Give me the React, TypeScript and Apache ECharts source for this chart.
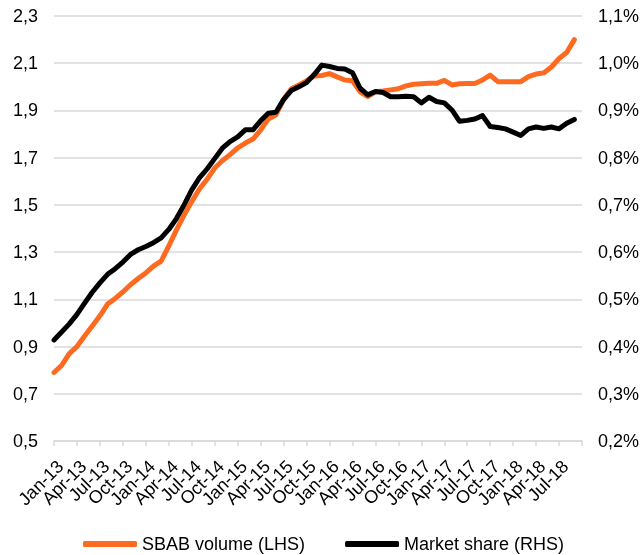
import React, { useEffect, useRef } from "react";
import * as echarts from "echarts";

const MONTHS = ["Jan", "Feb", "Mar", "Apr", "May", "Jun", "Jul", "Aug", "Sep", "Oct", "Nov", "Dec"];
const YEARS = ["13", "14", "15", "16", "17", "18"];
// Jan-13 .. Oct-18 (last category is the axis end, no data)
const categories: string[] = [];
YEARS.forEach((y) => MONTHS.forEach((m) => categories.push(`${m}-${y}`)));
categories.splice(70);

const sbabVolume = [
  0.79, 0.82, 0.87, 0.90, 0.945, 0.987, 1.03, 1.08, 1.104, 1.131, 1.162, 1.188,
  1.212, 1.241, 1.262, 1.326, 1.394, 1.457, 1.514, 1.567, 1.608, 1.656, 1.687, 1.713,
  1.741, 1.762, 1.779, 1.817, 1.864, 1.881, 1.946, 1.991, 2.008, 2.025, 2.046, 2.048,
  2.056, 2.042, 2.029, 2.026, 1.979, 1.959, 1.979, 1.982, 1.987, 1.992, 2.004, 2.011,
  2.013, 2.015, 2.015, 2.027, 2.008, 2.013, 2.014, 2.014, 2.029, 2.05, 2.022, 2.022,
  2.022, 2.022, 2.043, 2.054, 2.059, 2.084, 2.12, 2.145, 2.2,
];

const marketShare = [
  0.414, 0.431, 0.448, 0.468, 0.492, 0.515, 0.535, 0.553, 0.565, 0.579, 0.595, 0.605,
  0.612, 0.62, 0.63, 0.648, 0.671, 0.70, 0.732, 0.757, 0.776, 0.798, 0.82, 0.834,
  0.844, 0.859, 0.859, 0.878, 0.894, 0.896, 0.923, 0.942, 0.95, 0.959, 0.976, 0.996,
  0.993, 0.989, 0.988, 0.98, 0.947, 0.933, 0.94, 0.938, 0.929, 0.929, 0.93, 0.929,
  0.916, 0.928, 0.919, 0.916, 0.901, 0.877, 0.879, 0.882, 0.889, 0.866, 0.864, 0.861,
  0.854, 0.847, 0.861, 0.865, 0.862, 0.865, 0.861, 0.873, 0.881,
];

const LEFT_MIN = 0.5;
const LEFT_MAX = 2.3;
const RIGHT_MIN = 0.2;
const RIGHT_MAX = 1.1;

const FONT = "'Liberation Sans', Arial, sans-serif";
const GRID_COLOR = "#d9d9d9";
const ORANGE = "#FF6A21";

export default function App() {
  const ref = useRef<HTMLDivElement>(null);
  useEffect(() => {
    if (!ref.current) return;
    const chart = echarts.init(ref.current, undefined, { renderer: "svg" });
    chart.setOption({
      animation: false,
      textStyle: { fontFamily: FONT },
      grid: { left: 54, right: 61, top: 16, bottom: 114, containLabel: false },
      legend: {
        left: 83,
        top: 535,
        padding: 0,
        itemWidth: 54,
        itemHeight: 6,
        itemGap: 40,
        icon: "roundRect",
        textStyle: { fontSize: 18, color: "#000", fontFamily: FONT, padding: [0, 0, 0, 0] },
        data: [
          { name: "SBAB volume (LHS)", itemStyle: { color: ORANGE } },
          { name: "Market share (RHS)", itemStyle: { color: "#000" } },
        ],
      },
      xAxis: {
        type: "category",
        data: categories,
        boundaryGap: false,
        axisLine: { lineStyle: { color: GRID_COLOR, width: 1.5 } },
        axisTick: {
          show: true,
          length: 5,
          lineStyle: { color: GRID_COLOR, width: 1.5 },
          interval: (idx: number) => idx % 3 === 0,
        },
        axisLabel: {
          rotate: 45,
          fontSize: 18,
          color: "#000",
          fontFamily: FONT,
          margin: 16,
          verticalAlign: "top",
          hideOverlap: false,
          interval: 0,
          formatter: (v: string, idx: number) => (idx % 3 === 0 && idx < 69 ? v : ""),
        },
        splitLine: { show: false },
      },
      yAxis: [
        {
          type: "value",
          min: LEFT_MIN,
          max: LEFT_MAX,
          interval: 0.1,
          axisLine: { show: false },
          axisTick: { show: false },
          splitLine: { show: false },
          axisLabel: {
            fontSize: 18,
            color: "#000",
            fontFamily: FONT,
            margin: 16,
            formatter: (v: number) => {
              const k = Math.round(v * 10);
              return k % 2 === 1 ? (k / 10).toFixed(1).replace(".", ",") : "";
            },
          },
        },
        {
          type: "value",
          min: RIGHT_MIN,
          max: RIGHT_MAX,
          interval: 0.1,
          axisLine: { show: false },
          axisTick: { show: false },
          splitLine: { show: true, lineStyle: { color: GRID_COLOR, width: 1.5 } },
          axisLabel: {
            fontSize: 18,
            color: "#000",
            fontFamily: FONT,
            margin: 16,
            formatter: (v: number) => v.toFixed(1).replace(".", ",") + "%",
          },
        },
      ],
      series: [
        {
          name: "SBAB volume (LHS)",
          type: "line",
          yAxisIndex: 0,
          data: sbabVolume,
          symbol: "none",
          color: ORANGE,
          lineStyle: { color: ORANGE, width: 5, join: "round", cap: "round" },
        },
        {
          name: "Market share (RHS)",
          type: "line",
          yAxisIndex: 1,
          data: marketShare,
          symbol: "none",
          color: "#000",
          lineStyle: { color: "#000", width: 5, join: "round", cap: "round" },
        },
      ],
    });
    return () => chart.dispose();
  }, []);
  return (
    <div
      ref={ref}
      style={{ position: "fixed", left: 0, top: 0, width: 643, height: 555 }}
    />
  );
}
